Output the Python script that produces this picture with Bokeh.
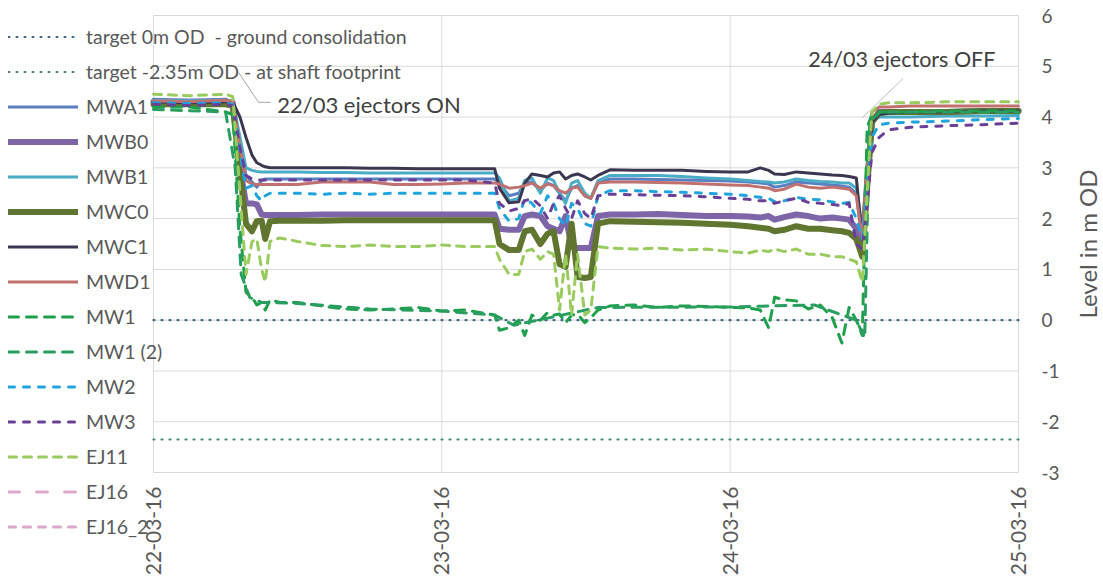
import math
from bokeh.plotting import figure
from bokeh.models import Range1d, FixedTicker, Legend, LegendItem, Label
from bokeh.embed import file_html
from bokeh.resources import INLINE

NaN = float("nan")

# ---------------- data ----------------
# hours since 22-03-16 00:00
hours = [0, 3, 6, 6.6, 7.2, 7.7, 8.2, 8.6, 9.0, 9.3, 9.7, 10.5, 12, 14, 16, 18, 20, 22, 24, 26,
         28.4, 28.8, 29.6, 30.4, 30.9, 31.5, 32.2, 32.8, 33.3, 33.8, 34.3, 34.8, 35.3, 35.9, 36.4, 37.0, 38,
         40, 42, 44, 46, 48, 49.5, 50.5, 51.2, 51.7, 52.5, 53.5, 54.5, 55.5, 56.5, 57.3, 57.9, 58.5,
         59.0, 59.4, 59.8, 60.4, 61.2, 63, 66, 69, 72]

mwa1 = [4.35, 4.33, 4.35,
        4.3, 3.5, 2.85, 2.72, 2.62, 2.75, 2.78, 2.78, 2.78, 2.78, 2.78, 2.78, 2.78, 2.78, 2.78, 2.78, 2.78,
        2.78, 2.7, 2.45, 2.5, 2.7, 2.72, 2.55, 2.7, 2.65, 2.5, 2.35, 2.6, 2.65, 2.45, 2.4, 2.7, 2.78,
        2.78, 2.77, 2.76, 2.75, 2.74, 2.72, 2.7, 2.68, 2.62, 2.65, 2.72, 2.7, 2.68, 2.66, 2.64, 2.62, 2.5,
        1.5, 2.8, 3.95, 4.1, 4.12, 4.12, 4.13, 4.13, 4.14]
mwb0 = [4.3, 4.3, 4.3,
        4.28, 3.0, 2.3, 2.3, 2.28, 2.08, 2.07, 2.07, 2.07, 2.07, 2.08, 2.08, 2.08, 2.08, 2.08, 2.08, 2.08,
        2.08, 1.8, 1.78, 1.78, 2.05, 2.08, 2.05, 1.85, 1.8, 1.75, 2.05, 1.45, 1.42, 1.42, 1.42, 2.05, 2.08,
        2.08, 2.09, 2.07, 2.05, 2.05, 2.04, 2.02, 2.05, 1.98, 2.03, 2.08, 2.05, 2.0, 2.02, 2.0, 1.98, 1.8,
        1.35, 2.7, 3.9, 4.1, 4.1, 4.1, 4.1, 4.12, 4.12]
mwb1 = [4.33, 4.32, 4.33,
        4.3, 3.6, 3.0, 2.95, 2.93, 2.92, 2.92, 2.92, 2.92, 2.92, 2.91, 2.91, 2.9, 2.9, 2.9, 2.9, 2.9,
        2.9, 2.8, 2.35, 2.4, 2.75, 2.8, 2.5, 2.8, 2.75, 2.5, 2.3, 2.7, 2.75, 2.5, 2.4, 2.75, 2.85,
        2.85, 2.85, 2.83, 2.8, 2.78, 2.75, 2.73, 2.72, 2.7, 2.72, 2.78, 2.75, 2.73, 2.72, 2.7, 2.7, 2.6,
        1.8, 3.0, 3.9, 4.0, 4.0, 4.0, 4.02, 4.02, 4.03]
mwc0 = [4.25, 4.25, 4.25,
        4.22, 2.9, 1.9, 1.75, 1.95, 1.96, 1.6, 1.95, 1.96, 1.96, 1.96, 1.97, 1.97, 1.97, 1.97, 1.97, 1.97,
        1.97, 1.5, 1.38, 1.38, 1.75, 1.78, 1.5, 1.7, 1.75, 1.1, 1.05, 1.9, 0.85, 0.83, 0.85, 1.9, 1.95,
        1.94, 1.93, 1.92, 1.9, 1.88, 1.85, 1.82, 1.8, 1.75, 1.78, 1.85, 1.8, 1.8, 1.77, 1.75, 1.72, 1.6,
        1.25, 2.6, 3.9, 4.08, 4.1, 4.1, 4.1, 4.12, 4.12]
mwc1 = [4.3, 4.28, 4.3,
        4.3, 4.0, 3.6, 3.25, 3.1, 3.05, 3.02, 3.0, 3.0, 3.0, 3.0, 3.0, 2.99, 2.99, 2.98, 2.98, 2.98,
        2.98, 2.6, 2.31, 2.33, 2.7, 2.88, 2.85, 2.82, 2.9, 2.92, 2.78, 2.85, 2.88, 2.82, 2.76, 2.85, 2.96,
        2.95, 2.95, 2.95, 2.93, 2.92, 2.92, 3.0, 2.95, 2.88, 2.87, 2.92, 2.9, 2.88, 2.86, 2.85, 2.83, 2.8,
        1.6, 2.7, 3.9, 4.05, 4.08, 4.1, 4.1, 4.12, 4.12]
mwd1 = [4.32, 4.3, 4.33,
        4.3, 3.4, 2.75, 2.68, 2.67, 2.67, 2.67, 2.67, 2.67, 2.67, 2.72, 2.72, 2.72, 2.67, 2.67, 2.68, 2.7,
        2.7, 2.68, 2.6, 2.62, 2.65, 2.7, 2.6, 2.68, 2.65, 2.55, 2.5, 2.6, 2.62, 2.45, 2.4, 2.7, 2.72,
        2.72, 2.71, 2.7, 2.68, 2.66, 2.65, 2.62, 2.6, 2.55, 2.58, 2.68, 2.62, 2.6, 2.62, 2.6, 2.58, 2.45,
        1.6, 3.0, 4.1, 4.2, 4.2, 4.22, 4.22, 4.22, 4.22]
mw1 = [4.2, 4.2, 4.1,
       4.05, 1.8, 0.55, 0.45, 0.3, 0.35, 0.2, 0.4, 0.35, 0.35, 0.28, 0.22, 0.2, 0.22, 0.25, 0.18, 0.2,
       0.1, -0.2, -0.15, 0.0, -0.3, 0.1, 0.0, 0.15, 0.1, 0.12, -0.05, 0.1, 0.12, -0.05, 0.05, 0.2, 0.28,
       0.3, 0.25, 0.28, 0.27, 0.25, 0.24, 0.2, -0.15, 0.45, 0.4, 0.38, 0.22, 0.3, 0.05, -0.45, 0.25, 0.0,
       -0.3, 3.8, 4.05, 4.1, 4.1, 4.1, 4.12, 4.12, 4.12]
mw2 = [4.28, 4.27, 4.28,
       4.25, 3.3, 2.6, 2.65, 2.45, 2.35, 2.45, 2.5, 2.5, 2.5, 2.48, 2.5, 2.48, 2.5, 2.5, 2.5, 2.5,
       2.5, 2.2, 1.95, 2.0, 2.4, 2.3, 2.1, 2.45, 2.3, 2.0, 1.85, 2.3, 2.2, 1.9, 1.85, 2.45, 2.55,
       2.55, 2.53, 2.52, 2.5, 2.48, 2.45, 2.42, 2.4, 2.33, 2.35, 2.42, 2.38, 2.37, 2.33, 2.3, 2.32, 2.0,
       1.6, 2.5, 3.6, 3.85, 3.88, 3.9, 3.92, 3.95, 3.97]
mw3 = [4.25, 4.23, 4.25,
       4.22, 3.4, 2.85, 2.78, 2.76, 2.76, 2.76, 2.76, 2.76, 2.76, 2.76, 2.76, 2.76, 2.76, 2.76, 2.76, 2.76,
       2.7, 2.3, 2.15, 2.2, 2.35, 2.4, 2.25, 2.0, 2.3, 2.45, 2.2, 2.0, 2.35, 2.1, 2.0, 2.45, 2.48,
       2.47, 2.46, 2.45, 2.43, 2.4, 2.38, 2.35, 2.35, 2.3, 2.35, 2.4, 2.32, 2.3, 2.28, 2.25, 2.3, 1.5,
       1.4, 2.3, 3.3, 3.6, 3.75, 3.8, 3.83, 3.85, 3.88]
ej11 = [4.45, 4.42, 4.45,
        4.4, 2.5, 0.9, 1.55, 1.6, 1.0, 0.75, 1.55, 1.62, 1.55, 1.47, 1.45, 1.48, 1.45, 1.45, 1.48, 1.45,
        1.45, 1.2, 0.9, 0.9, 1.35, 1.4, 1.2, 1.35, 1.3, 0.2, 1.3, 0.1, 1.3, 0.1, 0.2, 1.45, 1.42,
        1.4, 1.42, 1.38, 1.4, 1.35, 1.32, 1.38, 1.35, 1.4, 1.35, 1.4, 1.3, 1.3, 1.25, 1.25, 1.2, 1.15,
        0.75, 2.5, 4.1, 4.25, 4.28, 4.28, 4.3, 4.3, 4.3]

mw1_2_hours = [0, 6, 6.8, 7.3, 8.0, 9, 12, 18, 24, 28.4, 30, 33, 37, 48, 55, 58.5, 59.2, 59.6, 60.5, 72]
mw1_2 = [4.15, 4.1, 3.0, 0.9, 0.45, 0.35, 0.33, 0.22, 0.18, 0.1, -0.1, 0.05, 0.25, 0.26, 0.3, 0.0,
         -0.35, 3.9, 4.1, 4.1]

# EJ16 / EJ16_2: no readings in the window shown
ej16_hours, ej16 = [0, 72], [NaN, NaN]
ej16_2_hours, ej16_2 = [0, 72], [NaN, NaN]

target_hours = [0, 72]
target_ground = [0.0, 0.0]
target_shaft = [-2.35, -2.35]

tick_hours = [0, 24, 48, 72]
tick_labels = ["22-03-16", "23-03-16", "24-03-16", "25-03-16"]
y_ticks = [-3, -2, -1, 0, 1, 2, 3, 4, 5, 6]

# ---------------- layout (pixels) ----------------
W, H = 1103, 576
PLOT_L, PLOT_R, PLOT_T, PLOT_B = 153, 1018, 15, 472     # data area inside the canvas
px_h = (PLOT_R - PLOT_L) / (tick_hours[-1] - tick_hours[0])
px_y = (PLOT_B - PLOT_T) / (y_ticks[-1] - y_ticks[0])
x_start = tick_hours[0] - PLOT_L / px_h
x_end = tick_hours[-1] + (W - PLOT_R) / px_h
y_end = y_ticks[-1] + PLOT_T / px_y
y_start = y_ticks[0] - (H - PLOT_B) / px_y

FONT = "Lato"
TXT = "#595959"
GRID = "#D9D9D9"

p = figure(width=W, height=H, output_backend="svg", toolbar_location=None,
           x_range=Range1d(x_start, x_end), y_range=Range1d(y_start, y_end),
           y_axis_location="right", x_axis_location="below",
           min_border_left=0, min_border_top=0, min_border_bottom=0, min_border_right=0)
p.outline_line_color = None
p.background_fill_color = "white"
p.border_fill_color = "white"
for g in p.grid:
    g.visible = False

xax = p.xaxis[0]
xax.fixed_location = y_ticks[0]
xax.ticker = FixedTicker(ticks=tick_hours)
xax.major_label_overrides = {h: l for h, l in zip(tick_hours, tick_labels)}
xax.major_label_orientation = math.pi / 2
xax.major_label_standoff = 14

yax = p.yaxis[0]
yax.fixed_location = tick_hours[-1]
yax.ticker = FixedTicker(ticks=y_ticks)
yax.major_label_overrides = {t: str(t) for t in y_ticks}
yax.major_label_standoff = 23

for a in (xax, yax):
    a.axis_line_color = None
    a.major_tick_line_color = None
    a.minor_tick_line_color = None
    a.major_tick_in = 0
    a.major_tick_out = 0
    a.minor_tick_in = 0
    a.minor_tick_out = 0
    a.major_label_text_font = FONT
    a.major_label_text_color = TXT
xax.major_label_text_font_size = "21px"
yax.major_label_text_font_size = "19px"

# grid lines of the data area
p.segment(x0=tick_hours, x1=tick_hours, y0=[y_ticks[0]] * len(tick_hours),
          y1=[y_ticks[-1]] * len(tick_hours), line_color=GRID, line_width=1)
p.segment(x0=[tick_hours[0]] * len(y_ticks), x1=[tick_hours[-1]] * len(y_ticks),
          y0=y_ticks, y1=y_ticks, line_color=GRID, line_width=1)

series = [
    ("target 0m OD  - ground consolidation", target_hours, target_ground, "#3A6792", 2.2, "1 7"),
    ("target -2.35m OD - at shaft footprint", target_hours, target_shaft, "#3C8C62", 2.2, "1 7"),
    ("MWA1", hours, mwa1, "#5B7EC0", 3, "solid"),
    ("MWB0", hours, mwb0, "#7E65A8", 6, "solid"),
    ("MWB1", hours, mwb1, "#4BACC6", 3, "solid"),
    ("MWC0", hours, mwc0, "#5F7530", 6, "solid"),
    ("MWC1", hours, mwc1, "#3C3650", 3, "solid"),
    ("MWD1", hours, mwd1, "#C0716F", 3, "solid"),
    ("MW1", hours, mw1, "#1FA04C", 3, "10 8"),
    ("MW1 (2)", mw1_2_hours, mw1_2, "#2A9E60", 3, "10 8"),
    ("MW2", hours, mw2, "#1FA4DE", 3, "6 9"),
    ("MW3", hours, mw3, "#6A3F96", 3, "6 9"),
    ("EJ11", hours, ej11, "#9ACB5E", 3, "8 7"),
    ("EJ16", ej16_hours, ej16, "#E0A9CD", 3, "11 17"),
    ("EJ16_2", ej16_2_hours, ej16_2, "#DDA8CB", 3, "7 8"),
]

items = []
for name, xs, ys, col, lw, dash in series:
    r = p.line(xs, ys, line_color=col, line_width=lw, line_dash=dash, line_cap="round",
               line_join="round")
    items.append(LegendItem(label=name, renderers=[r]))

# call-outs (data units)
ann_on_x, ann_on_y = [7.08, 8.74, 9.74], [4.88, 4.29, 4.29]
ann_off_x, ann_off_y = [59.0, 62.4], [3.99, 4.76]
p.line(ann_on_x, ann_on_y, line_color="#A6A6A6", line_width=1)
p.line(ann_off_x, ann_off_y, line_color="#BFBFBF", line_width=1)
p.add_layout(Label(x=10.3, y=4.25, text="22/03 ejectors  ON", text_font=FONT,
                   text_font_size="22px", text_color="#404040", text_baseline="middle"))
p.add_layout(Label(x=54.5, y=5.15, text="24/03 ejectors OFF", text_font=FONT,
                   text_font_size="21.5px", text_color="#404040", text_baseline="middle"))

# y-axis title, right of the tick labels, centred on the data area, reading upwards
TITLE_X = 1087
p.add_layout(Label(x=TITLE_X, y=H - (PLOT_T + PLOT_B) / 2, x_units="screen", y_units="screen",
                   text="Level in m OD", angle=90, angle_units="deg",
                   text_align="center", text_baseline="middle",
                   text_font=FONT, text_font_size="24px", text_color=TXT))

legend = Legend(items=items, location=(8, 38), orientation="vertical",
                glyph_width=70, glyph_height=21, label_height=21, label_standoff=8, spacing=12,
                padding=0, margin=0, border_line_color=None, background_fill_alpha=0,
                label_text_font=FONT, label_text_font_size="19.5px", label_text_color=TXT)
p.add_layout(legend, "center")

open("out.html", "w").write(file_html(p, INLINE))
